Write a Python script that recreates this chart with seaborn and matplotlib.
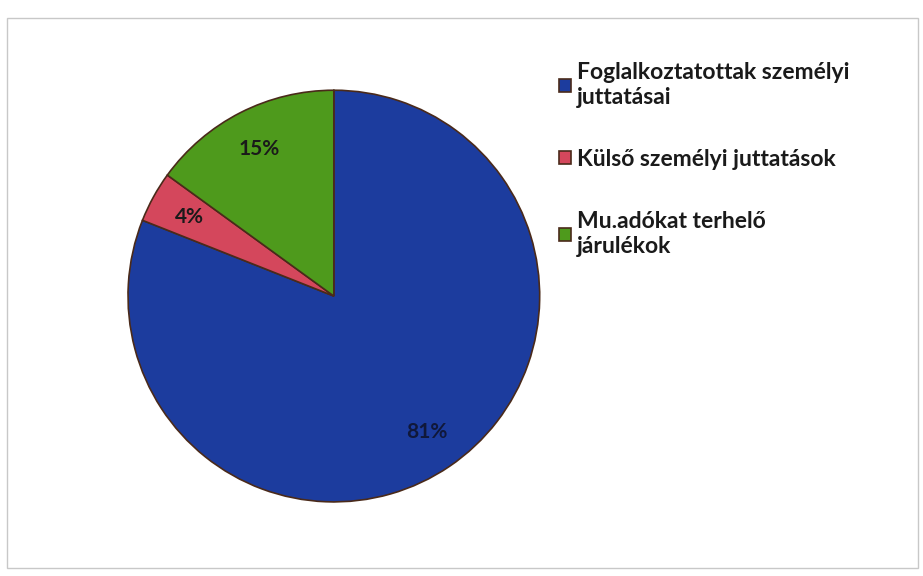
import matplotlib
matplotlib.use("Agg")
import matplotlib.pyplot as plt
import seaborn as sns
from matplotlib.patches import Rectangle

categories = ["Foglalkoztatottak személyi\njuttatásai",
              "Külső személyi juttatások",
              "Mu.adókat terhelő\njárulékok"]
shares = [81, 4, 15]
colors = ["#1c3c9e", "#d4475c", "#4e9a1c"]

sns.set_theme(style="white")
plt.rcParams['font.family'] = ['Lato', 'DejaVu Sans']

fig = plt.figure(figsize=(9.23, 5.76), dpi=100)
fig.patch.set_facecolor("white")

# outer chart-area frame
fig.patches.append(Rectangle((0.008, 0.014), 0.987, 0.955, transform=fig.transFigure,
                             fill=False, edgecolor="#c8c8c8", linewidth=1.0))

ax = fig.add_axes([0.1387, 0.1285, 0.446, 0.715])
wedges, texts, autotexts = ax.pie(
    shares, colors=colors, startangle=90, counterclock=False,
    autopct="%d%%", pctdistance=0.8,
    wedgeprops=dict(edgecolor="#4a2a1a", linewidth=1.2),
    textprops=dict(fontsize=15, fontweight="bold", color="#1a1a1a"))
autotexts[0].set_color("#10183a")
ax.set_xlim(-1, 1)
ax.set_ylim(-1, 1)
ax.set_aspect("equal")

leg = fig.legend(wedges, categories, loc="upper left",
                 bbox_to_anchor=(0.606, 0.892), frameon=False,
                 fontsize=16.5, handlelength=0.5, handleheight=0.5,
                 handletextpad=0.25, labelspacing=1.8, borderaxespad=0,
                 borderpad=0)
for t in leg.get_texts():
    t.set_fontweight("bold")
    t.set_color("#1a1a1a")

fig.savefig("out.png", dpi=100)
